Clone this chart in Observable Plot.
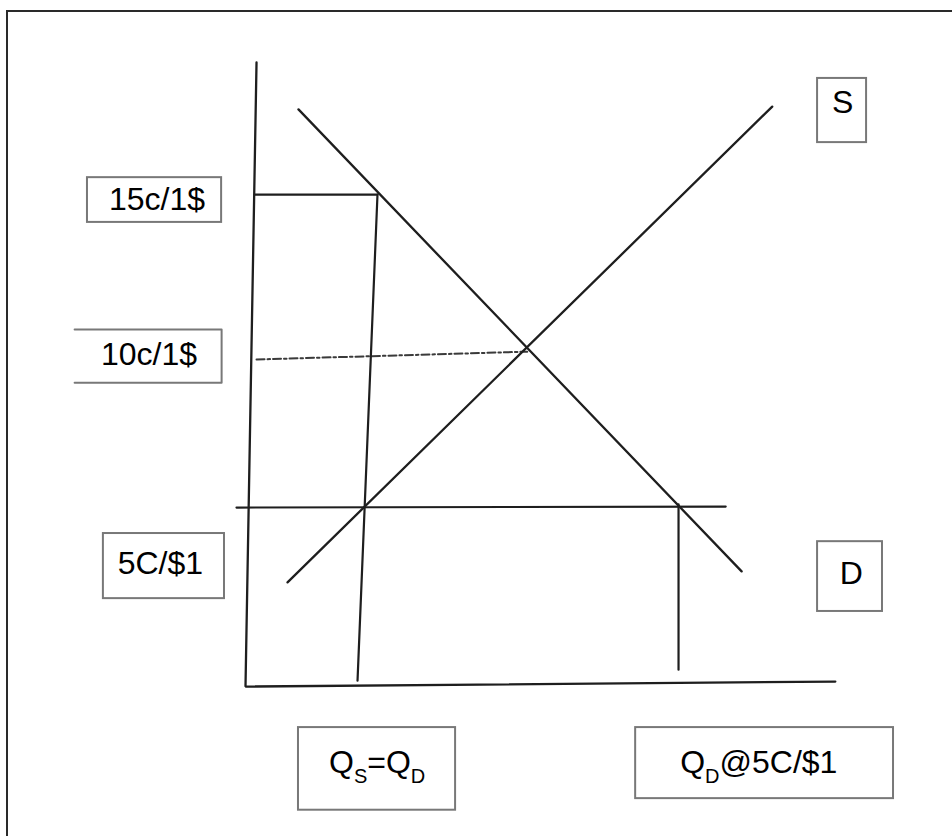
<!DOCTYPE html>
<html>
<head>
<meta charset="utf-8">
<script src="https://cdn.jsdelivr.net/npm/d3@7"></script>
<script src="https://cdn.jsdelivr.net/npm/@observablehq/plot@0.6"></script>
<style>
  html, body { margin: 0; padding: 0; background: #fff; overflow: hidden; }
  #wrap { position: relative; width: 952px; height: 836px; overflow: hidden; }
  #wrap svg { position: absolute; left: 0; top: 0; }
  #frame { position: absolute; left: 6px; top: 10px; right: -10px; bottom: -10px;
           border-left: 2px solid #2a2a2a; border-top: 2px solid #2a2a2a; pointer-events: none; }
</style>
</head>
<body>
<div id="wrap"></div>
<script>
// Hand-drawn supply & demand diagram.
// Chart units: x = quantity, y = price (cents per $1).

// Axes (drawn as one hand-drawn polyline: top of price axis -> origin -> end of quantity axis)
const axisQ = [1.8, 0, 96.3];
const axisP = [19.22, -0.72, -0.56];

// Supply and demand curves (end points of the hand-drawn straight lines)
const supplyQ = [6.86, 86.0];
const supplyP = [2.61, 17.81];
const demandQ = [8.65, 81.0];
const demandP = [17.72, 2.96];

// Guide lines
const guideNames = ["price 5c", "price 15c", "Qs = Qd", "Qd @ 5c"];
const guideQ = [[-1.47, 78.4], [1.47, 21.55], [21.55, 18.29], [70.7, 70.7]];
const guideP = [[5.0, 5.03], [15.0, 15.0], [15.0, -0.53], [5.1, -0.18]];

// Dash-dot guide to the equilibrium price (10c)
const equilibriumQ = [1.8, 46.0];
const equilibriumP = [9.73, 9.98];

// Boxed labels ("_X" marks a subscript X)
const labelText = ["15c/1$", "10c/1$", "5C/$1", "S", "D", "Q_S=Q_D", "Q_D@5C/$1"];
const labelQ = [-14.45, -15.76, -13.9, 97.5, 98.9, 21.5, 83.8];
const labelP = [14.52, 9.54, 2.89, 17.59, 2.57, -3.47, -3.47];
const boxQ1 = [-25.8, -27.9, -23.2, 93.4, 93.4, 8.65, 63.7];
const boxQ2 = [-3.9, -3.9, -3.43, 101.4, 104.0, 34.3, 105.8];
const boxP1 = [15.54, 10.69, 4.17, 18.71, 3.91, -2.03, -2.03];
const boxP2 = [14.11, 8.99, 2.09, 16.66, 1.68, -4.67, -4.30];
const boxOpenLeft = [false, true, false, false, false, false, false];

// ---- build tables for the marks ----
const toPts = (qs, ps, id) => qs.map((q, i) => ({q, p: ps[i], id}));
const axisPts = toPts(axisQ, axisP, "axes");
const curvePts = [...toPts(supplyQ, supplyP, "S"), ...toPts(demandQ, demandP, "D")];
const guidePts = guideNames.flatMap((n, i) => toPts(guideQ[i], guideP[i], n));
const eqPts = toPts(equilibriumQ, equilibriumP, "eq");

const labels = labelText.map((t, i) => ({
  text: t, q: labelQ[i], p: labelP[i],
  q1: boxQ1[i], q2: boxQ2[i], p1: boxP1[i], p2: boxP2[i], open: boxOpenLeft[i]
}));
const closedBoxes = labels.filter(d => !d.open);
const openBoxPts = labels.filter(d => d.open).flatMap(d => [
  {q: d.q1, p: d.p1, id: d.text}, {q: d.q2, p: d.p1, id: d.text},
  {q: d.q2, p: d.p2, id: d.text}, {q: d.q1, p: d.p2, id: d.text}
]);
const plainLabels = labels.filter(d => !d.text.includes("_"));
const subLabels = labels.filter(d => d.text.includes("_"));

const lineColor = "#1e1e1e";
const boxColor = "#787878";
const font = "Liberation Sans, Arial, Helvetica, sans-serif";

const chart = Plot.plot({
  width: 952,
  height: 836,
  margin: 0,
  style: {background: "transparent", fontFamily: font},
  x: {domain: [-40, 115.43], range: [0, 952], axis: null},
  y: {domain: [-5.51, 21.2], range: [836, 0], axis: null},
  marks: [
    Plot.rect(closedBoxes, {x1: "q1", x2: "q2", y1: "p1", y2: "p2",
      fill: "white", stroke: boxColor, strokeWidth: 2}),
    Plot.line(openBoxPts, {x: "q", y: "p", z: "id",
      stroke: boxColor, strokeWidth: 2, curve: "linear"}),
    Plot.line(eqPts, {x: "q", y: "p", z: "id",
      stroke: "#3a3a3a", strokeWidth: 2, strokeDasharray: "8,3,2.5,3"}),
    Plot.line(guidePts, {x: "q", y: "p", z: "id", stroke: lineColor, strokeWidth: 2.2}),
    Plot.line(curvePts, {x: "q", y: "p", z: "id", stroke: lineColor, strokeWidth: 2.3}),
    Plot.line(axisPts, {x: "q", y: "p", z: "id", stroke: lineColor, strokeWidth: 2.3,
      strokeLinejoin: "miter"}),
    Plot.text(plainLabels, {x: "q", y: "p", text: "text", lineAnchor: "bottom",
      textAnchor: "middle", fontSize: 32, fill: "#000", fontFamily: font,
      letterSpacing: "-0.04em"}),
    Plot.text(subLabels, {x: "q", y: "p", text: "text", lineAnchor: "bottom",
      textAnchor: "middle", fontSize: 32, fill: "#000", fontFamily: font,
      letterSpacing: "-0.03em", className: "sublabel"})
  ]
});

// Turn "_X" into subscript tspans
d3.select(chart).selectAll(".sublabel text").each(function () {
  const raw = this.textContent;
  this.textContent = "";
  const parts = raw.split(/_(.)/);
  let shifted = false;
  const el = d3.select(this);
  parts.forEach((s, k) => {
    if (s === "") return;
    const ts = el.append("tspan").text(s);
    if (k % 2 === 1) {
      ts.attr("font-size", 20).attr("dy", 10);
      shifted = true;
    } else if (shifted) {
      ts.attr("dy", -10);
      shifted = false;
    }
  });
});

const wrap = document.getElementById("wrap");
wrap.appendChild(chart);
const frame = document.createElement("div");
frame.id = "frame";
wrap.appendChild(frame);
</script>
</body>
</html>
